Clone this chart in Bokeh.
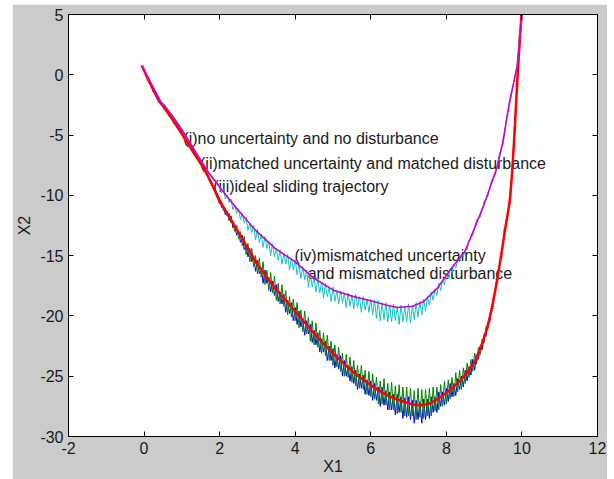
from bokeh.plotting import figure
from bokeh.models import LinearAxis, FixedTicker, Range1d, CustomJSTickFormatter
from bokeh.embed import file_html
from bokeh.resources import INLINE
from bokeh.core.properties import value

# ---------------- data ----------------
x_ticks = [-2, 0, 2, 4, 6, 8, 10, 12]
y_ticks = [-30, -25, -20, -15, -10, -5, 0, 5]

# (iii) ideal sliding trajectory (red)
red_x = [-0.05, 0.1, 0.25, 0.4, 0.55, 0.8, 1.07, 1.33, 1.59, 1.8,
         2.01, 2.22, 2.43, 2.7, 2.95, 3.2, 3.47, 3.73, 3.99, 4.25,
         4.51, 4.77, 5.03, 5.3, 5.55, 5.8, 6.07, 6.33, 6.59, 6.85,
         7.11, 7.32, 7.53, 7.75, 7.95, 8.15, 8.36, 8.57, 8.78, 8.97,
         9.09, 9.21, 9.34, 9.45, 9.55, 9.68, 9.75, 9.81, 9.87, 9.95, 9.99]
red_y = [0.7, -0.35, -1.3, -2.2, -2.8, -3.95, -5.25, -6.55, -7.8, -9.1,
         -10.5, -11.6, -12.7, -14.15, -15.5, -16.6, -17.7, -18.65, -19.6, -20.55,
         -21.5, -22.35, -23.2, -24.0, -24.7, -25.3, -25.9, -26.4, -26.8, -27.1,
         -27.35, -27.4, -27.3, -26.95, -26.5, -26.0, -25.4, -24.6, -23.7, -22.1,
         -20.9, -19.3, -17.1, -15.0, -12.9, -10.5, -7.7, -4.5, -0.9, 3.2, 5.0]

# (i)/(ii) noisy trajectories around the ideal one (blue, green)
low_x = [-0.05, 0.1, 0.25, 0.4, 0.55, 0.8, 1.07, 1.33, 1.59, 1.8,
         2.0, 2.05, 2.1, 2.15, 2.2, 2.25, 2.3, 2.35, 2.4, 2.45,
         2.5, 2.55, 2.6, 2.65, 2.7, 2.75, 2.8, 2.85, 2.9, 2.95,
         3.0, 3.05, 3.1, 3.15, 3.2, 3.25, 3.3, 3.35, 3.4, 3.45,
         3.5, 3.55, 3.6, 3.65, 3.7, 3.75, 3.8, 3.85, 3.9, 3.95,
         4.0, 4.05, 4.1, 4.15, 4.2, 4.25, 4.3, 4.35, 4.4, 4.45,
         4.5, 4.55, 4.6, 4.65, 4.7, 4.75, 4.8, 4.85, 4.9, 4.95,
         5.0, 5.05, 5.1, 5.15, 5.2, 5.25, 5.3, 5.35, 5.4, 5.45,
         5.5, 5.55, 5.6, 5.65, 5.7, 5.75, 5.8, 5.85, 5.9, 5.95,
         6.0, 6.05, 6.1, 6.15, 6.2, 6.25, 6.3, 6.35, 6.4, 6.45,
         6.5, 6.55, 6.6, 6.65, 6.7, 6.75, 6.8, 6.85, 6.9, 6.95,
         7.0, 7.05, 7.1, 7.15, 7.2, 7.25, 7.3, 7.35, 7.4, 7.45,
         7.5, 7.55, 7.6, 7.65, 7.7, 7.75, 7.8, 7.85, 7.9, 7.95,
         8.0, 8.05, 8.1, 8.15, 8.2, 8.25, 8.3, 8.35, 8.4, 8.45,
         8.5, 8.55, 8.6, 8.65, 8.7, 8.75, 8.8, 8.85, 8.9, 8.95,
         9.0, 9.05, 9.1, 9.15, 9.2,
         9.34, 9.45, 9.55, 9.68, 9.75, 9.81, 9.87, 9.95, 9.99]
blue_y = [0.7, -0.25, -1.15, -2.05, -2.65, -3.8, -5.1, -6.4, -7.7, -9.0,
          -10.3, -11.0, -10.9, -11.6, -11.3, -12.1, -11.7, -12.7, -12.5, -13.3,
          -12.9, -13.9, -13.3, -14.5, -14.1, -15.1, -14.4, -15.5, -15.0, -16.3,
          -15.4, -16.5, -16.0, -17.3, -16.2, -17.3, -16.8, -18.0, -17.1, -18.3,
          -17.4, -18.8, -18.0, -19.0, -18.2, -19.7, -18.7, -19.8, -18.9, -20.4,
          -19.3, -20.7, -19.6, -20.9, -20.2, -21.6, -20.4, -21.5, -20.7, -22.2,
          -21.2, -22.4, -21.4, -23.0, -21.9, -23.0, -22.1, -23.7, -22.5, -23.7,
          -22.7, -24.3, -23.2, -24.4, -23.3, -25.0, -23.7, -25.0, -24.1, -25.4,
          -24.2, -25.6, -24.5, -26.1, -24.8, -26.0, -24.9, -26.5, -25.3, -26.6,
          -25.4, -27.0, -25.6, -27.0, -25.9, -27.5, -25.9, -27.4, -26.2, -27.8,
          -26.3, -27.8, -26.5, -28.2, -26.5, -28.0, -26.7, -28.5, -26.8, -28.4,
          -26.7, -28.6, -27.0, -28.9, -27.0, -28.6, -27.1, -28.9, -26.9, -28.6,
          -26.9, -28.5, -26.7, -28.0, -26.7, -28.0, -26.3, -27.5, -26.3, -27.4,
          -26.0, -27.1, -25.6, -26.7, -25.6, -26.6, -25.2, -26.1, -25.0, -25.9,
          -24.5, -25.4, -24.2, -24.9, -23.6, -24.5, -23.2, -23.6, -22.4, -22.8,
          -21.5, -21.7, -20.5, -20.5, -19.2,
          -17.1, -15.0, -12.9, -10.6, -7.8, -4.6, -1.0, 3.1, 5.0]
green_y = [0.7, -0.3, -1.2, -2.1, -2.7, -3.85, -5.15, -6.45, -7.8, -9.2,
           -10.7, -10.5, -11.3, -11.1, -11.7, -11.5, -12.3, -12.1, -13.0, -12.5,
           -13.6, -13.0, -14.2, -13.4, -14.9, -14.0, -15.5, -14.4, -15.9, -15.0,
           -16.5, -15.2, -16.8, -15.5, -17.4, -16.2, -17.9, -16.4, -18.1, -16.7,
           -18.7, -17.3, -19.0, -17.4, -19.2, -17.9, -19.9, -18.4, -20.1, -18.6,
           -20.4, -18.9, -21.0, -19.5, -21.3, -19.6, -21.5, -20.1, -22.1, -20.4,
           -22.4, -20.6, -22.6, -21.2, -23.1, -21.4, -23.3, -21.6, -23.7, -22.1,
           -24.1, -22.4, -24.2, -22.6, -24.6, -23.1, -25.0, -23.2, -25.1, -23.4,
           -25.5, -23.7, -25.8, -24.1, -26.0, -24.1, -26.1, -24.5, -26.5, -24.6,
           -26.7, -24.8, -26.9, -25.1, -27.3, -25.4, -27.3, -25.2, -27.4, -25.6,
           -27.8, -25.5, -27.8, -25.8, -28.1, -25.7, -28.0, -25.9, -28.3, -25.9,
           -28.3, -26.0, -28.3, -26.2, -28.6, -26.0, -28.4, -26.1, -28.5, -26.1,
           -28.3, -26.0, -28.3, -25.9, -27.9, -25.9, -27.8, -25.7, -27.5, -25.4,
           -27.3, -25.3, -26.9, -25.1, -26.7, -24.7, -26.3, -24.5, -26.1, -24.3,
           -25.6, -23.9, -25.1, -23.6, -24.6, -23.1, -24.0, -22.6, -23.2, -21.9,
           -22.2, -20.9, -21.1, -19.8, -19.7,
           -16.9, -15.2, -12.8, -10.4, -7.6, -4.4, -0.8, 3.3, 5.0]

# (iv) mismatched uncertainty and mismatched disturbance (magenta smooth, cyan noisy)
mag_x = [-0.05, 0.1, 0.25, 0.45, 0.55, 0.8, 1.07, 1.4, 1.7, 2.0,
         2.43, 2.95, 3.47, 3.99, 4.51, 5.03, 5.55, 6.07, 6.4, 6.7,
         7.11, 7.4, 7.76, 8.1, 8.5, 8.97, 9.34, 9.5, 9.68, 9.87, 9.95, 10.0]
mag_y = [0.7, -0.2, -1.1, -2.3, -2.6, -3.65, -4.9, -6.6, -8.1, -9.3,
         -11.0, -12.9, -14.4, -15.5, -16.9, -17.9, -18.4, -18.8, -19.1, -19.3,
         -19.2, -18.8, -17.7, -16.2, -14.6, -11.0, -7.7, -5.5, -2.1, 0.6, 3.4, 5.0]

cyan_x = [-0.05, 0.1, 0.25, 0.45, 0.55, 0.8, 1.07, 1.4, 1.7,
          2.0, 2.05, 2.1, 2.15, 2.2, 2.25, 2.3, 2.35, 2.4, 2.45,
          2.5, 2.55, 2.6, 2.65, 2.7, 2.75, 2.8, 2.85, 2.9, 2.95,
          3.0, 3.05, 3.1, 3.15, 3.2, 3.25, 3.3, 3.35, 3.4, 3.45,
          3.5, 3.55, 3.6, 3.65, 3.7, 3.75, 3.8, 3.85, 3.9, 3.95,
          4.0, 4.05, 4.1, 4.15, 4.2, 4.25, 4.3, 4.35, 4.4, 4.45,
          4.5, 4.55, 4.6, 4.65, 4.7, 4.75, 4.8, 4.85, 4.9, 4.95,
          5.0, 5.05, 5.1, 5.15, 5.2, 5.25, 5.3, 5.35, 5.4, 5.45,
          5.5, 5.55, 5.6, 5.65, 5.7, 5.75, 5.8, 5.85, 5.9, 5.95,
          6.0, 6.05, 6.1, 6.15, 6.2, 6.25, 6.3, 6.35, 6.4, 6.45,
          6.5, 6.55, 6.6, 6.65, 6.7, 6.75, 6.8, 6.85, 6.9, 6.95,
          7.0, 7.05, 7.1, 7.15, 7.2, 7.25, 7.3, 7.35, 7.4, 7.45,
          7.5, 7.55, 7.6, 7.65, 7.7, 7.75, 7.8, 7.85, 7.9, 7.95,
          8.0, 8.05, 8.1, 8.15, 8.2, 8.25, 8.3, 8.35, 8.4, 8.45,
          8.5, 8.55, 8.6,
          8.7, 8.8, 8.9, 9.0, 9.1, 9.2, 9.3, 9.4, 9.5, 9.6,
          9.7, 9.8, 9.9, 9.95, 10.0]
cyan_y = [0.7, -0.15, -1.0, -2.2, -2.5, -3.55, -4.8, -6.5, -8.0,
          -9.2, -9.8, -9.5, -10.3, -10.0, -10.6, -10.3, -11.2, -10.8, -11.5,
          -11.1, -12.0, -11.5, -12.3, -11.8, -12.9, -12.3, -13.1, -12.5, -13.7,
          -12.8, -13.9, -13.2, -14.3, -13.4, -14.4, -13.8, -15.0, -14.0, -15.1,
          -14.4, -15.4, -14.5, -15.7, -14.8, -15.7, -14.9, -16.2, -15.2, -16.2,
          -15.3, -16.6, -15.7, -16.9, -15.9, -17.0, -16.2, -17.6, -16.4, -17.6,
          -16.8, -18.0, -16.9, -18.1, -17.2, -18.5, -17.3, -18.4, -17.6, -18.8,
          -17.6, -18.8, -17.9, -19.0, -17.9, -18.9, -18.1, -19.3, -18.1, -19.2,
          -18.3, -19.4, -18.2, -19.3, -18.4, -19.7, -18.4, -19.5, -18.6, -19.7,
          -18.6, -19.9, -18.7, -20.2, -18.7, -20.4, -18.9, -20.3, -18.9, -20.5,
          -19.1, -20.5, -19.0, -20.4, -19.2, -20.7, -19.1, -20.5, -19.2, -20.5,
          -19.0, -20.6, -19.1, -20.3, -18.9, -20.1, -18.8, -19.9, -18.6, -19.6,
          -18.4, -19.1, -18.0, -18.7, -17.8, -18.3, -17.3, -17.9, -17.0, -17.4,
          -16.5, -16.9, -16.1, -16.4, -15.7, -16.0, -15.3, -15.5, -14.9, -15.1,
          -14.5, -14.5, -13.7,
          -13.3, -12.0, -11.8, -10.5, -10.1, -8.7, -8.3, -6.6, -5.8, -3.4,
          -2.1, -0.3, 1.3, 3.4, 5.0]

# annotations (data coordinates)
label_text = ["(i)no uncertainty and no disturbance",
              "(ii)matched uncertainty and matched disturbance",
              "(iii)ideal sliding trajectory",
              "(iv)mismatched uncertainty",
              "and mismatched disturbance"]
label_x = [1.04, 1.48, 1.83, 3.98, 4.33]
label_y = [-5.3, -7.38, -9.29, -15.02, -16.51]

# ---------------- figure ----------------
FONT = "Liberation Sans"
GRAY = "#cbcbcb"
INK = "#1a1a1a"

p = figure(frame_width=529, frame_height=422,
           x_range=Range1d(-2, 12), y_range=Range1d(-30, 5),
           output_backend="svg", toolbar_location=None,
           min_border_left=56, min_border_right=10,
           min_border_top=10, min_border_bottom=43,
           margin=(4, 7, 0, 12),
           background_fill_color="white", border_fill_color=GRAY,
           outline_line_color="black", outline_line_width=1)
p.grid.visible = False

plain = CustomJSTickFormatter(code="return tick.toString()")
for ax in (p.xaxis[0], p.yaxis[0]):
    ax.formatter = plain
    ax.major_tick_in = 5
    ax.major_tick_out = 0
    ax.minor_tick_line_color = None
    ax.axis_line_color = "black"
    ax.major_tick_line_color = "black"
    ax.major_label_text_font = FONT
    ax.major_label_text_font_size = "16px"
    ax.major_label_text_color = INK
    ax.axis_label_text_font = FONT
    ax.axis_label_text_font_size = "16px"
    ax.axis_label_text_font_style = "normal"
    ax.axis_label_text_color = INK

p.xaxis[0].ticker = FixedTicker(ticks=x_ticks)
p.yaxis[0].ticker = FixedTicker(ticks=y_ticks)
p.xaxis[0].axis_label = "X1"
p.yaxis[0].axis_label = "X2"
p.xaxis[0].major_label_standoff = 5
p.xaxis[0].axis_label_standoff = 1
p.yaxis[0].major_label_standoff = 5
p.yaxis[0].axis_label_standoff = 4

blank = CustomJSTickFormatter(code="return ''")
right = LinearAxis(ticker=FixedTicker(ticks=y_ticks), formatter=blank,
                   major_tick_in=5, major_tick_out=0, minor_tick_line_color=None,
                   major_label_standoff=0, axis_line_color="black")
top = LinearAxis(ticker=FixedTicker(ticks=x_ticks), formatter=blank,
                 major_tick_in=5, major_tick_out=0, minor_tick_line_color=None,
                 major_label_standoff=0, axis_line_color="black")
p.add_layout(right, "right")
p.add_layout(top, "above")

# text first so the curves overlap it, as in the original
p.text(x=label_x, y=label_y, text=label_text,
       text_font=value(FONT), text_font_size="16px",
       text_baseline="middle", text_align="left", text_color=INK)

p.line(low_x, blue_y, line_color="#0000ff", line_width=1)
p.line(low_x, green_y, line_color="#008000", line_width=1)
p.line(red_x, red_y, line_color="#ff0000", line_width=2.5)
p.scatter(red_x, red_y, marker="x", size=4, line_color="#ff0000", line_width=1)
p.line(cyan_x, cyan_y, line_color="#10c4c4", line_width=1)
p.line(mag_x, mag_y, line_color="#d000d0", line_width=1.6)

open("out.html", "w").write(file_html(p, INLINE))
